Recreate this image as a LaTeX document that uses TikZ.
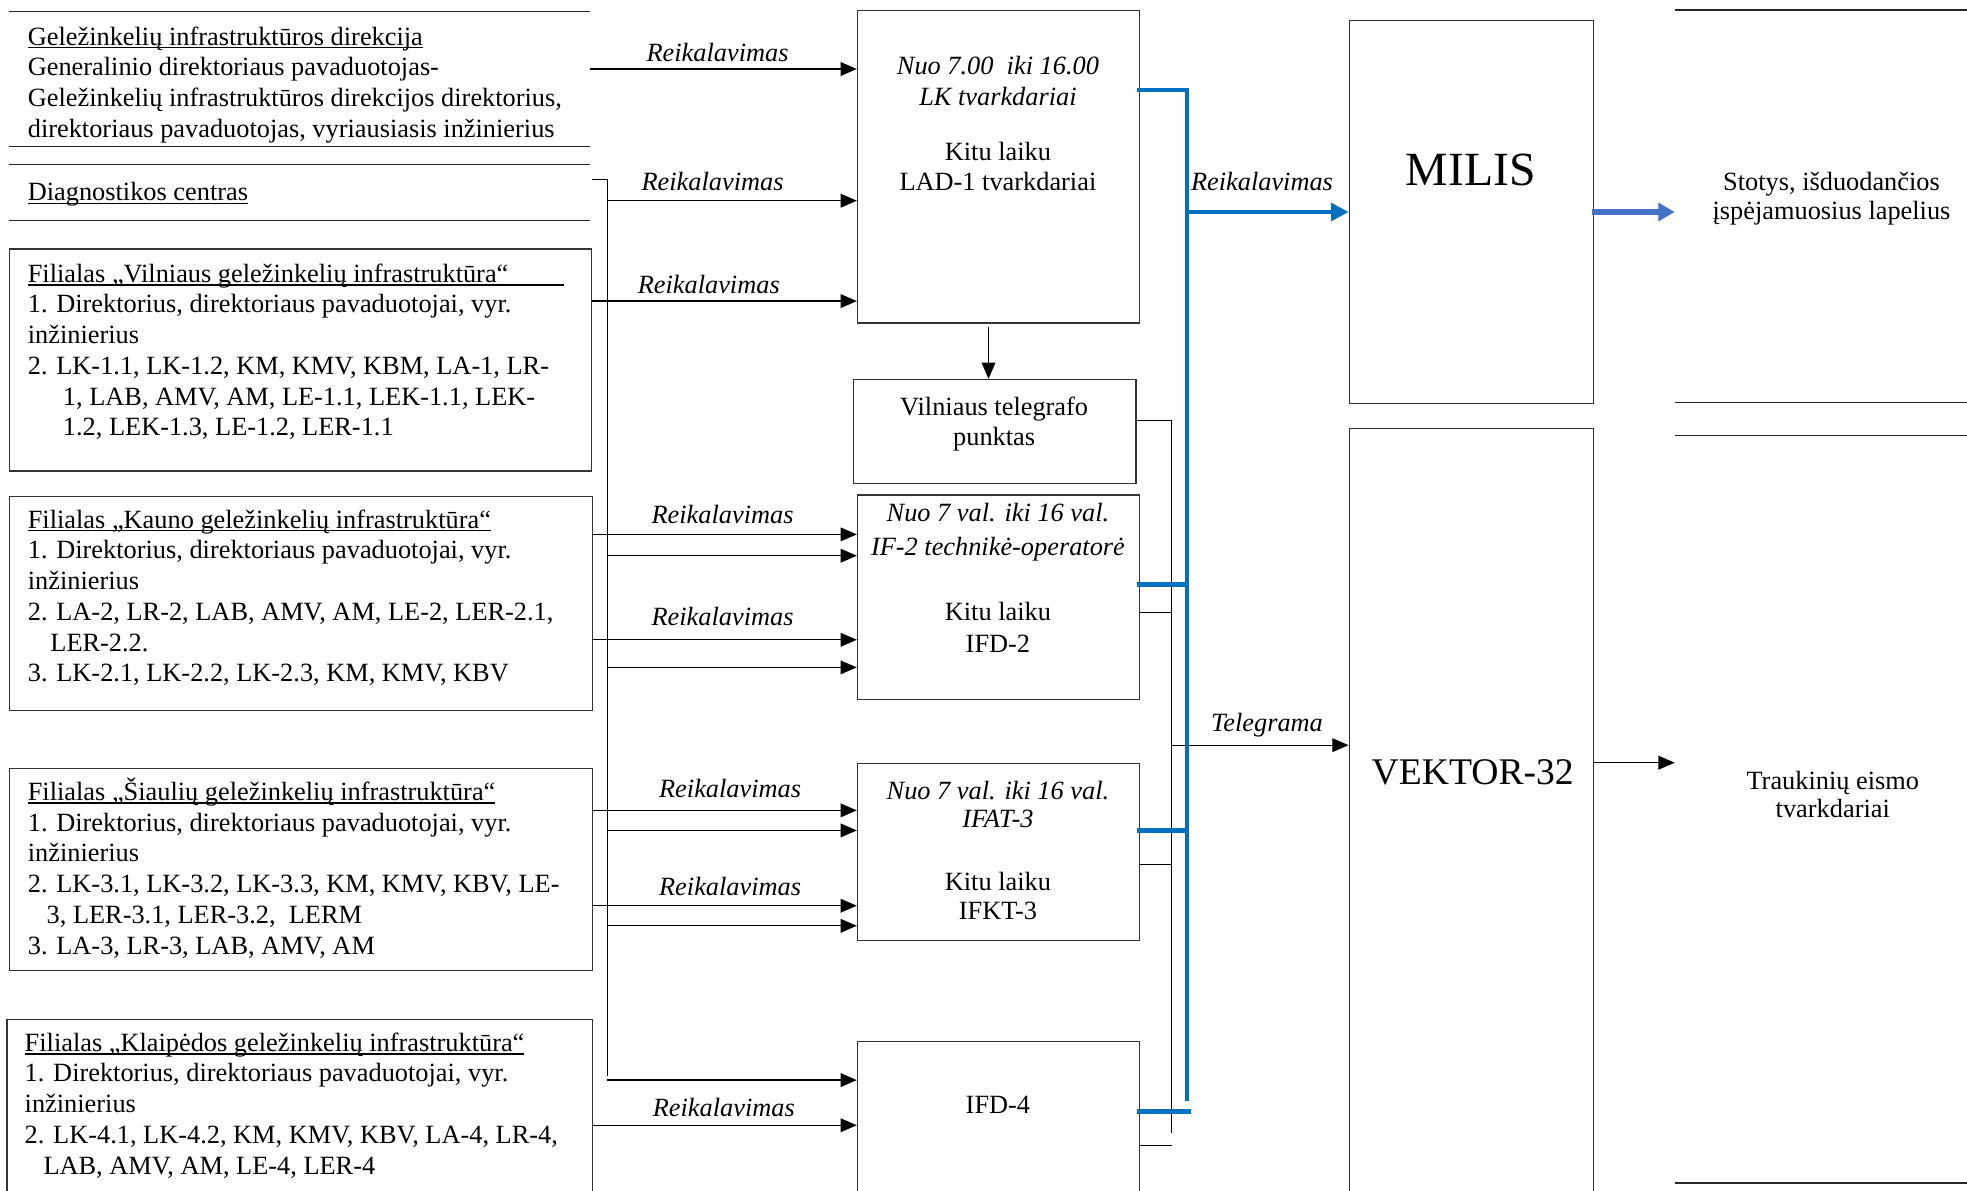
\documentclass[tikz,border=0pt]{standalone}
\usepackage{fontspec}
\setmainfont{Liberation Serif}
\usetikzlibrary{arrows.meta}
\definecolor{busblue}{HTML}{0070C0}
\definecolor{outblue}{HTML}{4472C4}
\newsavebox\ulbox
\newcommand\myul[1]{\sbox\ulbox{#1}\rlap{\rule[-2.6pt]{\wd\ulbox}{0.9pt}}\usebox\ulbox}
\newcommand\fsz{\fontsize{21}{24.5}\selectfont}
\begin{document}
\begin{tikzpicture}[x=1pt,y=-1pt,
  txt/.style={font=\fsz, inner sep=0pt, anchor=base west},
  ctr/.style={font=\fsz, inner sep=0pt, anchor=base},
  ctri/.style={font=\fsz\itshape, inner sep=0pt, anchor=base},
  lbl/.style={font=\fsz\itshape, inner sep=0pt, anchor=base},
  box/.style={draw=black!80, line width=1pt, anchor=north west, inner sep=0pt},
  arr/.style={draw=black, line width=1pt, -{Triangle[length=13pt,width=11pt]}},
  thinln/.style={draw=black, line width=1pt},
  busln/.style={draw=busblue, line width=3.4pt, line join=miter},
  rln/.style={draw=black!85, line width=1pt}]
\useasboundingbox[fill=white] (0,0) rectangle (1568,949);

% ---------- left column ----------
\draw[rln] (7,9) -- (470,9);
\draw[rln] (7,117) -- (470,117);
\draw[rln] (7,131) -- (470,131);
\draw[rln] (7,176) -- (470,176);
\node[txt] (g1) at (22,36) {\myul{Geležinkelių infrastruktūros direkcija}};
\node[txt] (g2) at (22,60.5) {Generalinio direktoriaus pavaduotojas-};
\node[txt] (g3) at (22,85) {Geležinkelių infrastruktūros direkcijos direktorius,};
\node[txt] (g4) at (22,109.5) {direktoriaus pavaduotojas, vyriausiasis inžinierius};
\node[txt] (d1) at (22,160) {\myul{Diagnostikos centras}};

\node[box, minimum width=464pt, minimum height=177pt] (vil) at (7,198) {};
\node[txt] (v1) at (22,225) {\myul{Filialas „Vilniaus geležinkelių infrastruktūra“\hspace*{44pt}}};
\node[txt] (v2) at (22,249.5) {1. Direktorius, direktoriaus pavaduotojai, vyr.};
\node[txt] (v3) at (22,274) {inžinierius};
\node[txt] (v4) at (22,298.5) {2. LK-1.1, LK-1.2, KM, KMV, KBM, LA-1, LR-};
\node[txt] (v5) at (50,323) {1, LAB, AMV, AM, LE-1.1, LEK-1.1, LEK-};
\node[txt] (v6) at (50,347.5) {1.2, LEK-1.3, LE-1.2, LER-1.1};

\node[box, minimum width=465pt, minimum height=171pt] (kau) at (7,395) {};
\node[txt] (k1) at (22,421) {\myul{Filialas „Kauno geležinkelių infrastruktūra“}};
\node[txt] (k2) at (22,445.5) {1. Direktorius, direktoriaus pavaduotojai, vyr.};
\node[txt] (k3) at (22,470) {inžinierius};
\node[txt] (k4) at (22,494.5) {2. LA-2, LR-2, LAB, AMV, AM, LE-2, LER-2.1,};
\node[txt] (k5) at (40,519) {LER-2.2.};
\node[txt] (k6) at (22,543.5) {3. LK-2.1, LK-2.2, LK-2.3, KM, KMV, KBV};

\node[box, minimum width=465pt, minimum height=161pt] (sia) at (7,612) {};
\node[txt] (s1) at (22,638) {\myul{Filialas „Šiaulių geležinkelių infrastruktūra“}};
\node[txt] (s2) at (22,662.5) {1. Direktorius, direktoriaus pavaduotojai, vyr.};
\node[txt] (s3) at (22,687) {inžinierius};
\node[txt] (s4) at (22,711.5) {2. LK-3.1, LK-3.2, LK-3.3, KM, KMV, KBV, LE-};
\node[txt] (s5) at (37,736) {3, LER-3.1, LER-3.2, \ LERM};
\node[txt] (s6) at (22,760.5) {3. LA-3, LR-3, LAB, AMV, AM};

\node[box, minimum width=467pt, minimum height=160pt] (kla) at (5,812) {};
\node[txt] (l1) at (19.5,838) {\myul{Filialas „Klaipėdos geležinkelių infrastruktūra“}};
\node[txt] (l2) at (19.5,862.5) {1. Direktorius, direktoriaus pavaduotojai, vyr.};
\node[txt] (l3) at (19.5,887) {inžinierius};
\node[txt] (l4) at (19.5,911.5) {2. LK-4.1, LK-4.2, KM, KMV, KBV, LA-4, LR-4,};
\node[txt] (l5) at (34.5,936) {LAB, AMV, AM, LE-4, LER-4};

% ---------- middle boxes ----------
\node[box, minimum width=225pt, minimum height=249pt] (lad) at (683,8) {};
\node[ctri] at (795.5,59) {Nuo 7.00 \ iki 16.00};
\node[ctri] at (795.5,84) {LK tvarkdariai};
\node[ctr] at (795.5,128) {Kitu laiku};
\node[ctr] at (795.5,152) {LAD-1 tvarkdariai};

\node[box, minimum width=225pt, minimum height=83pt] (tel) at (680,302) {};
\node[ctr] at (792.5,331) {Vilniaus telegrafo};
\node[ctr] at (792.5,355) {punktas};

\node[box, minimum width=225pt, minimum height=163pt] (if2) at (683,394) {};
\node[ctri] at (795.5,416) {Nuo 7 val. iki 16 val.};
\node[ctri] at (795.5,443) {IF-2 technikė-operatorė};
\node[ctr] at (795.5,495) {Kitu laiku};
\node[ctr] at (795.5,520) {IFD-2};

\node[box, minimum width=225pt, minimum height=141pt] (ifa) at (683,608) {};
\node[ctri] at (795.5,637) {Nuo 7 val. iki 16 val.};
\node[ctri] at (795.5,660) {IFAT-3};
\node[ctr] at (795.5,710) {Kitu laiku};
\node[ctr] at (795.5,733) {IFKT-3};

\node[box, minimum width=225pt, minimum height=140pt] (ifd) at (683,830) {};
\node[ctr] at (795.5,888) {IFD-4};

% ---------- right boxes ----------
\node[box, minimum width=195pt, minimum height=305pt] (milis) at (1075,16) {};
\node[font=\fontsize{38}{40}\selectfont, inner sep=0pt, anchor=base] at (1172.5,147.5) {MILIS};
\node[box, minimum width=195pt, minimum height=620pt] (vek) at (1075,341) {};
\node[font=\fontsize{30}{32}\selectfont, inner sep=0pt, anchor=base] at (1174,625) {VEKTOR-32};

\node[font=\fsz, inner sep=0pt, anchor=base] (st1) at (1460,152) {Stotys, išduodančios};
\node[font=\fsz, inner sep=0pt, anchor=base] (st2) at (1460,175) {įspėjamuosius lapelius};
\node[font=\fsz, inner sep=0pt, anchor=base] (tr1) at (1461,629) {Traukinių eismo};
\node[font=\fsz, inner sep=0pt, anchor=base] (tr2) at (1461,652) {tvarkdariai};

\draw[rln] (1335,8) -- (1568,8);
\draw[rln] (1335,321) -- (1568,321);
\draw[rln] (1335,347) -- (1568,347);
\draw[rln] (1335,943) -- (1568,943);

% ---------- coordinates ----------
\coordinate (gid) at (470,55);
\coordinate (dia) at (472,143);
\coordinate (busTop) at (484,143);
\coordinate (busBot) at (484,858);
\coordinate (tbus) at (934,335);
\coordinate (bbus) at (946,72);
\coordinate (stIn) at (1335,169);
\coordinate (trIn) at (1335,608);

% ---------- black bus and arrows ----------
\draw[thinln] (dia) -- (busTop) -- (busBot);
\draw[arr] (gid) -- (lad.west |- 0,55);
\draw[arr] (busTop |- 0,160) -- (lad.west |- 0,160);
\draw[arr] (vil.east |- 0,240) -- (lad.west |- 0,240);
\draw[arr] (kau.east |- 0,426) -- (if2.west |- 0,426);
\draw[arr] (busTop |- 0,443) -- (if2.west |- 0,443);
\draw[arr] (kau.east |- 0,510) -- (if2.west |- 0,510);
\draw[arr] (busTop |- 0,532) -- (if2.west |- 0,532);
\draw[arr] (sia.east |- 0,646) -- (ifa.west |- 0,646);
\draw[arr] (busTop |- 0,662) -- (ifa.west |- 0,662);
\draw[arr] (sia.east |- 0,722) -- (ifa.west |- 0,722);
\draw[arr] (busTop |- 0,738) -- (ifa.west |- 0,738);
\draw[arr] (busTop |- 0,861) -- (ifd.west |- 0,861);
\draw[arr] (kla.east |- 0,897) -- (ifd.west |- 0,897);
\draw[arr] (788,261) -- (tel.north -| 788,0);

\node[lbl] at (572,49) {Reikalavimas};
\node[lbl] at (568,152) {Reikalavimas};
\node[lbl] at (565,234) {Reikalavimas};
\node[lbl] at (576,417) {Reikalavimas};
\node[lbl] at (576,499) {Reikalavimas};
\node[lbl] at (582,636) {Reikalavimas};
\node[lbl] at (582,714) {Reikalavimas};
\node[lbl] at (577,890) {Reikalavimas};

% ---------- telegram lines ----------
\draw[thinln] (tel.east |- tbus) -- (tbus) -- (934,903);
\draw[thinln] (if2.east |- 0,488) -- (934,488);
\draw[thinln] (ifa.east |- 0,689) -- (934,689);
\draw[thinln] (ifd.east |- 0,913) -- (934,913);
\draw[arr] (934,594) -- (vek.west |- 0,594);
\node[lbl] at (1010,583) {Telegrama};
\draw[arr] (vek.east |- trIn) -- (trIn);

% ---------- blue bus ----------
\draw[busln] ([xshift=-3pt]lad.east |- bbus) -- (bbus) -- (946,878);
\draw[busln] ([xshift=-3pt]if2.east |- 0,466) -- (946,466);
\draw[busln] ([xshift=-3pt]ifa.east |- 0,662) -- (946,662);
\draw[busln] ([xshift=-3pt]ifd.east |- 0,886) -- (949,886);
\draw[busln, -{Triangle[length=14pt,width=14pt]}] (946,169) -- (milis.west |- 0,169);
\node[lbl] at (1006,152) {Reikalavimas};
\draw[draw=outblue, line width=5pt, -{Triangle[length=13pt,width=14pt]}] ([xshift=-2pt]milis.east |- stIn) -- (stIn);
\end{tikzpicture}
\end{document}
